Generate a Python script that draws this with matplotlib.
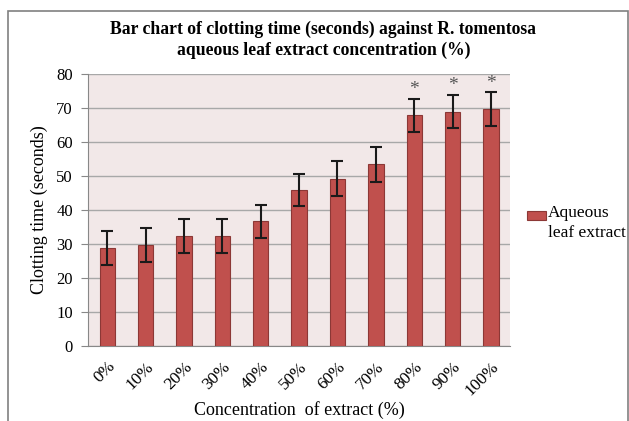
import matplotlib
matplotlib.use("Agg")
import matplotlib.pyplot as plt
from matplotlib.patches import Rectangle
import numpy as np

# data
concentrations = ['0%', '10%', '20%', '30%', '40%', '50%', '60%', '70%', '80%', '90%', '100%']
clotting_time = [28.8, 29.7, 32.5, 32.5, 36.7, 45.9, 49.2, 53.5, 67.9, 68.9, 69.6]
errors = [5.0, 4.9, 5.0, 5.0, 4.9, 4.8, 5.1, 5.1, 4.9, 4.9, 5.0]
significant = [False, False, False, False, False, False, False, False, True, True, True]
series_name = 'Aqueous\nleaf extract'

plt.rcParams['font.family'] = ['Liberation Serif', 'DejaVu Serif']

W, H = 629, 421
fig = plt.figure(figsize=(W / 100, H / 100), dpi=100)
ax = fig.add_axes([0.140, 0.178, 0.671, 0.646])
ax.set_facecolor('#f2e8e8')

x = np.arange(len(concentrations))
ax.bar(x, clotting_time, width=0.4, color='#c0504d', edgecolor='#8c3836',
       linewidth=0.8, zorder=3)
ax.errorbar(x, clotting_time, yerr=errors, fmt='none', ecolor='#1a1a1a',
            elinewidth=1.5, capsize=4, capthick=1.5, zorder=4)

for xi, v, e, s in zip(x, clotting_time, errors, significant):
    if s:
        ax.text(xi, v + e + 0.2, '*', ha='center', va='bottom',
                fontsize=14, color='#555555', zorder=5)

ax.set_xlim(-0.5, len(concentrations) - 0.5)
ax.set_ylim(0, 80)
ax.set_yticks(range(0, 81, 10))
ax.set_xticks(x)
ax.set_xticklabels(concentrations, rotation=45, ha='right',
                   rotation_mode='anchor', fontsize=12.5)
ax.tick_params(axis='y', labelsize=12, length=5, color='#888888',
               direction='out', pad=6)
ax.tick_params(axis='x', length=0, pad=9)
ax.yaxis.grid(True, color='#a8a8a8', linewidth=1.0, zorder=0)
ax.set_axisbelow(True)
for side in ['top', 'right']:
    ax.spines[side].set_visible(False)
ax.spines['left'].set_color('#888888')
ax.spines['bottom'].set_color('#888888')

ax.set_ylabel('Clotting time (seconds)', fontsize=13, labelpad=6)
ax.set_xlabel('Concentration  of extract (%)', fontsize=13, labelpad=2)

fig.text(0.514, 0.905, 'Bar chart of clotting time (seconds) against R. tomentosa\n'
         'aqueous leaf extract concentration (%)',
         ha='center', va='center', fontsize=12.7, fontweight='bold',
         linespacing=1.3)

# legend, drawn by hand to match the stacked label layout
fig.patches.append(Rectangle((527 / W, 1 - 220 / H), 19 / W, 9 / H,
                             transform=fig.transFigure, facecolor='#c0504d',
                             edgecolor='#8c3836', linewidth=0.8))
fig.text(548 / W, 1 - 205 / H, series_name, ha='left', va='top',
         fontsize=12.5, linespacing=1.35)

# outer frame of the chart
fig.patches.append(Rectangle((8 / W, -0.05), 620 / W, 1 - 11 / H + 0.05,
                             transform=fig.transFigure, fill=False,
                             edgecolor='#808080', linewidth=1.2))

fig.savefig('out.png', dpi=100)
